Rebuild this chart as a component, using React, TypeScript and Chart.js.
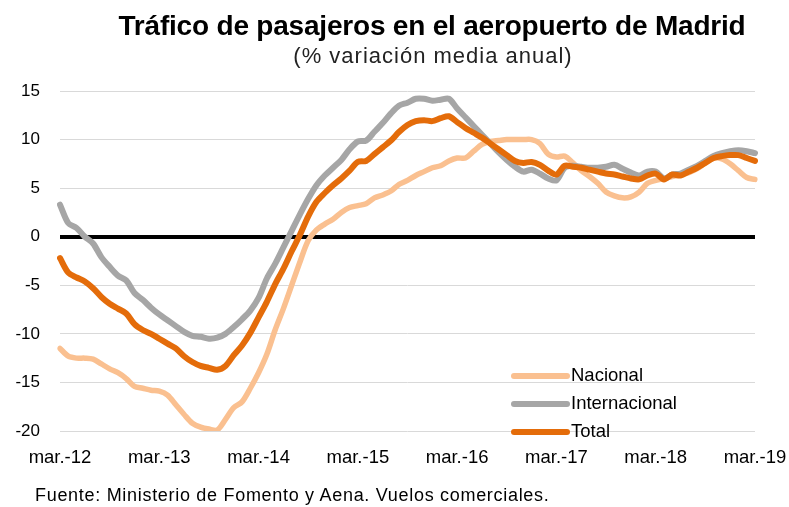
import React, { useEffect, useRef } from 'react';
import { Chart, registerables } from 'chart.js';

Chart.register(...registerables);

const MONTHS = ['mar', 'abr', 'may', 'jun', 'jul', 'ago', 'sep', 'oct', 'nov', 'dic', 'ene', 'feb'];
const N_POINTS = 85;
const CATEGORIES: string[] = [];
for (let i = 0; i < N_POINTS; i++) {
  CATEGORIES.push(`${MONTHS[i % 12]}.-${12 + Math.floor((i + 2) / 12)}`);
}

const TICK_LABELS = ['mar.-12', 'mar.-13', 'mar.-14', 'mar.-15', 'mar.-16', 'mar.-17', 'mar.-18', 'mar.-19'];
const Y_TICKS = [-20, -15, -10, -5, 0, 5, 10, 15];

const NACIONAL = [
  -11.5, -12.3, -12.5, -12.5, -12.6, -13.1, -13.6, -14.0, -14.6, -15.4,
  -15.6, -15.8, -15.9, -16.3, -17.3, -18.3, -19.2, -19.6, -19.8, -19.9,
  -18.8, -17.6, -17.0, -15.6, -14.0, -12.1, -9.6, -7.4, -5.0, -2.6,
  -0.4, 0.7, 1.3, 1.8, 2.5, 3.0, 3.2, 3.4, 4.0, 4.3,
  4.7, 5.4, 5.8, 6.3, 6.7, 7.1, 7.3, 7.8, 8.1, 8.1,
  8.8, 9.5, 9.8, 9.9, 10.0, 10.0, 10.0, 10.0, 9.6, 8.5,
  8.2, 8.3, 7.6, 6.8, 6.2, 5.5, 4.6, 4.2, 4.0, 4.1,
  4.6, 5.5, 5.8, 6.0, 6.2, 6.4, 6.6, 7.0, 7.6, 8.1,
  8.0, 7.5, 6.8, 6.1, 5.9,
];

const INTERNACIONAL = [
  3.3, 1.4, 0.9, 0.0, -0.7, -2.1, -3.1, -4.0, -4.5, -5.8,
  -6.5, -7.3, -8.0, -8.6, -9.2, -9.8, -10.2, -10.3, -10.5, -10.4,
  -10.0, -9.3, -8.5, -7.6, -6.3, -4.3, -2.8, -1.1, 0.6, 2.3,
  3.9, 5.3, 6.3, 7.1, 7.9, 9.0, 9.8, 9.9, 10.8, 11.7,
  12.7, 13.5, 13.8, 14.2, 14.2, 14.0, 14.1, 14.2, 13.2, 12.3,
  11.4, 10.5, 9.6, 8.7, 7.9, 7.2, 6.7, 6.9, 6.5, 6.0,
  5.8, 7.1, 7.3, 7.2, 7.1, 7.1, 7.2, 7.4, 7.0, 6.6,
  6.3, 6.7, 6.7, 6.0, 6.4, 6.5, 6.9, 7.3, 7.8, 8.3,
  8.6, 8.8, 8.9, 8.8, 8.6,
];

const TOTAL = [
  -2.2, -3.7, -4.2, -4.6, -5.3, -6.2, -6.9, -7.4, -7.9, -9.0,
  -9.6, -10.0, -10.5, -11.0, -11.5, -12.3, -12.9, -13.3, -13.5, -13.7,
  -13.3, -12.2, -11.2, -9.9, -8.3, -6.7, -4.9, -3.3, -1.5, 0.2,
  2.1, 3.6, 4.5, 5.3, 6.0, 6.8, 7.7, 7.8, 8.5, 9.2,
  9.9, 10.8, 11.5, 11.9, 12.0, 11.9, 12.2, 12.4, 11.8, 11.2,
  10.7, 10.2, 9.6, 9.0, 8.4, 7.8, 7.6, 7.7, 7.4, 6.8,
  6.4, 7.3, 7.2, 7.1, 6.9, 6.7, 6.5, 6.4, 6.2, 6.0,
  5.9, 6.3, 6.5, 5.9, 6.4, 6.3, 6.7, 7.1, 7.6, 8.1,
  8.3, 8.4, 8.4, 8.1, 7.8,
];

const SERIES_NAMES = ['Nacional', 'Internacional', 'Total'];
const SERIES_COLORS = ['#FAC090', '#A6A6A6', '#E46C0A'];

const FONT = '"Liberation Sans", Arial, sans-serif';

const legendPlugin = {
  id: 'customLegend',
  afterDatasetsDraw(chart: any) {
    const ctx = chart.ctx;
    const rows = [376, 404, 432];
    ctx.save();
    chart.data.datasets.forEach((ds: any, i: number) => {
      const y = rows[i];
      ctx.strokeStyle = ds.borderColor;
      ctx.lineWidth = 6;
      ctx.lineCap = 'round';
      ctx.beginPath();
      ctx.moveTo(514, y);
      ctx.lineTo(567, y);
      ctx.stroke();
      ctx.fillStyle = '#000';
      ctx.font = `18.5px ${FONT}`;
      ctx.textBaseline = 'middle';
      ctx.textAlign = 'left';
      ctx.fillText(ds.label, 571, y);
    });
    ctx.restore();
  },
};

export default function App() {
  const canvasRef = useRef<HTMLCanvasElement | null>(null);

  useEffect(() => {
    document.body.style.margin = '0';
    const canvas = canvasRef.current;
    if (!canvas) return;
    const data = [NACIONAL, INTERNACIONAL, TOTAL];
    const chart = new Chart(canvas, {
      type: 'line',
      data: {
        labels: CATEGORIES,
        datasets: SERIES_NAMES.map((name, i) => ({
          label: name,
          data: data[i],
          borderColor: SERIES_COLORS[i],
          backgroundColor: SERIES_COLORS[i],
          borderWidth: i === 0 ? 5.5 : 6,
          pointRadius: 0,
          tension: 0.3,
          borderCapStyle: 'round',
          borderJoinStyle: 'round',
          order: 3 - i,
        })),
      },
      options: {
        animation: false,
        responsive: false,
        maintainAspectRatio: false,
        layout: { padding: { top: 91, right: 34, left: 0, bottom: 0 } },
        plugins: {
          legend: { display: false },
          tooltip: { enabled: false },
          title: { display: false },
        },
        scales: {
          x: {
            type: 'category',
            offset: false,
            grid: { display: false, drawTicks: false },
            border: { display: false },
            afterFit: (s: any) => {
              s.height = 76;
              s.paddingLeft = 0;
              s.paddingRight = 0;
            },
            ticks: {
              autoSkip: false,
              maxRotation: 0,
              minRotation: 0,
              padding: 16,
              color: '#000',
              font: { family: FONT, size: 18.5 },
              callback: (_v: any, idx: number) => (idx % 12 === 0 ? TICK_LABELS[idx / 12] : null),
            },
          },
          y: {
            min: Y_TICKS[0],
            max: Y_TICKS[Y_TICKS.length - 1],
            afterFit: (s: any) => { s.width = 60; },
            afterBuildTicks: (s: any) => { s.ticks = Y_TICKS.map((v) => ({ value: v })); },
            grid: {
              drawTicks: false,
              color: (c: any) => (c.tick && c.tick.value === 0 ? '#000' : '#D9D9D9'),
              lineWidth: (c: any) => (c.tick && c.tick.value === 0 ? 4 : 1),
            },
            border: { display: false },
            ticks: {
              padding: 20,
              color: '#000',
              font: { family: FONT, size: 17 },
            },
          },
        },
      },
      plugins: [legendPlugin],
    } as any);
    return () => chart.destroy();
  }, []);

  return (
    <div style={{ position: 'relative', width: 789, height: 507, fontFamily: FONT, overflow: 'hidden' }}>
      <canvas ref={canvasRef} width={789} height={507} style={{ position: 'absolute', left: 0, top: 0 }} />
      <div style={{ position: 'absolute', left: 432, top: 10, transform: 'translateX(-50%)', whiteSpace: 'nowrap', fontWeight: 'bold', fontSize: 28, color: '#000', letterSpacing: -0.2 }}>
        Tráfico de pasajeros en el aeropuerto de Madrid
      </div>
      <div style={{ position: 'absolute', left: 433, top: 43, transform: 'translateX(-50%)', whiteSpace: 'nowrap', fontSize: 22, color: '#222', letterSpacing: 1 }}>
        (% variación media anual)
      </div>
      <div style={{ position: 'absolute', left: 35, top: 485, whiteSpace: 'nowrap', fontSize: 18, color: '#000', letterSpacing: 0.7 }}>
        Fuente: Ministerio de Fomento y Aena. Vuelos comerciales.
      </div>
    </div>
  );
}
